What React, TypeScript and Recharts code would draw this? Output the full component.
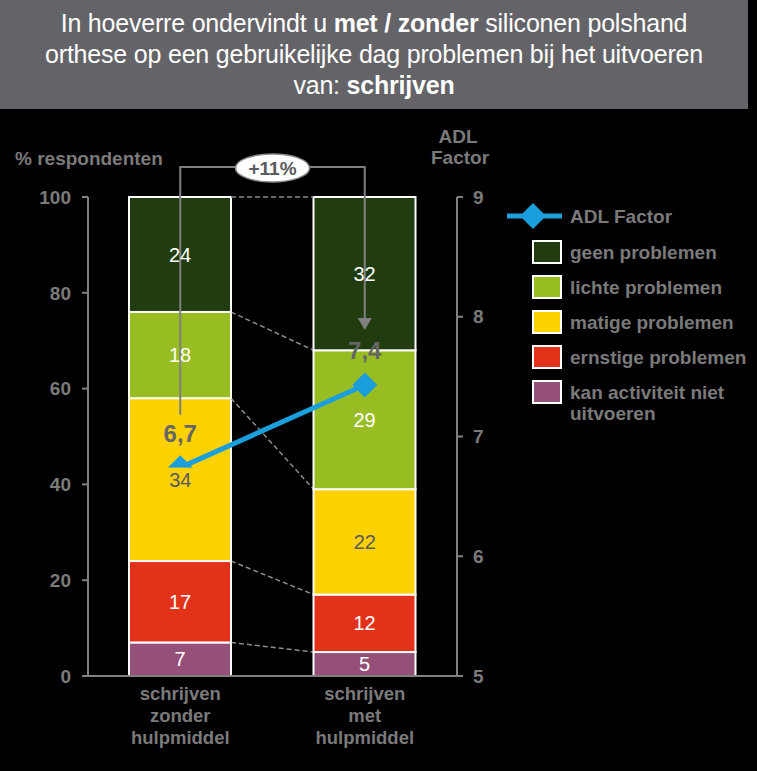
import React from "react";
import { ComposedChart, Bar, Line, Scatter, XAxis, YAxis, LabelList } from "recharts";

// ---------- data ----------
const categories = ["schrijven zonder hulpmiddel", "schrijven met hulpmiddel"];
const categoryLines = [
  ["schrijven", "zonder", "hulpmiddel"],
  ["schrijven", "met", "hulpmiddel"],
];
const kanNietUitvoeren = [7, 5];
const ernstigeProblemen = [17, 12];
const matigeProblemen = [34, 22];
const lichteProblemen = [18, 29];
const geenProblemen = [24, 32];
const adlFactor = [6.74, 7.43];
const adlLabels = ["6,7", "7,4"];
const changeLabel = "+11%";
const leftTicks = [0, 20, 40, 60, 80, 100];
const rightTicks = [5, 6, 7, 8, 9];
const lineName = "ADL Factor";

// ---------- styles ----------
const FONT = "'Liberation Sans', Arial, sans-serif";
const GRAY = "#7a7a7a";
const AXIS = "#808080";
const BLUE = "#1a9fdc";

const series = [
  { key: "kan", name: "kan activiteit niet uitvoeren", values: kanNietUitvoeren, color: "#955079", text: "#ffffff" },
  { key: "ernstig", name: "ernstige problemen", values: ernstigeProblemen, color: "#e2321a", text: "#ffffff" },
  { key: "matig", name: "matige problemen", values: matigeProblemen, color: "#fed100", text: "#5a5a5a" },
  { key: "licht", name: "lichte problemen", values: lichteProblemen, color: "#98bd22", text: "#ffffff" },
  { key: "geen", name: "geen problemen", values: geenProblemen, color: "#213d0f", text: "#ffffff" },
];
const MATIG = series[2];

const data = categories.map((cat, i) => {
  const row: Record<string, any> = { cat, adl: adlFactor[i] };
  series.forEach((s) => (row[s.key] = s.values[i]));
  row.matigMid = kanNietUitvoeren[i] + ernstigeProblemen[i] + matigeProblemen[i] / 2;
  return row;
});

const legendItems = [...series].reverse();

// ---------- custom shapes ----------
const edgeStore: Record<string, { x: number; y: number }> = {};
function makeShape(key: string, color: string) {
  return (props: any) => {
    const { x, y, width, height, index } = props;
    let connector: React.ReactNode = null;
    if (index === 0) {
      edgeStore[key] = { x: x + width, y };
    } else if (edgeStore[key]) {
      const p = edgeStore[key];
      connector = (
        <line x1={p.x} y1={p.y} x2={x} y2={y} stroke="#8c8c8c" strokeWidth={1.5} strokeDasharray="5 3" />
      );
    }
    return (
      <g>
        <rect x={x} y={y} width={width} height={height} fill={color} stroke="#ffffff" strokeWidth={2} />
        {connector}
      </g>
    );
  };
}

const renderMatigLabel = (props: any) => {
  const { cx, cy, payload } = props;
  if (cx == null || cy == null) return <g />;
  return (
    <g>
      <rect x={cx - 18} y={cy - 12} width={36} height={24} fill={MATIG.color} />
      <text x={cx} y={cy + 7} textAnchor="middle" fontSize={20} fill={MATIG.text} fontFamily={FONT}>
        {payload.matig}
      </text>
    </g>
  );
};

const pointStore: { x: number; y: number }[] = [];
const renderDot = (props: any) => {
  const { cx, cy, index } = props;
  pointStore[index] = { x: cx, y: cy };
  const s = 12.5;
  const parts: React.ReactNode[] = [];
  parts.push(
    <polygon key="d" points={`${cx},${cy - s} ${cx + s},${cy} ${cx},${cy + s} ${cx - s},${cy}`} fill={BLUE} />
  );
  parts.push(
    <text key="t" x={cx} y={cy - 26} textAnchor="middle" fontSize={24} fontWeight="bold" fill="#666666" fontFamily={FONT}>
      {adlLabels[index]}
    </text>
  );
  if (index === 1 && pointStore[0]) {
    const p0 = pointStore[0];
    const p1 = { x: cx, y: cy };
    const ppu = (p0.y - p1.y) / (adlFactor[1] - adlFactor[0]);
    const yTop = p1.y - (rightTicks[rightTicks.length - 1] - adlFactor[1]) * ppu - 30;
    const end0 = p0.y - 53;
    const tip1 = p1.y - 55;
    const mid = (p0.x + p1.x) / 2;
    parts.push(
      <g key="b">
        <polyline
          points={`${p0.x},${end0} ${p0.x},${yTop} ${p1.x},${yTop} ${p1.x},${tip1 - 11}`}
          fill="none"
          stroke={AXIS}
          strokeWidth={2}
        />
        <polygon points={`${p1.x - 7},${tip1 - 12} ${p1.x + 7},${tip1 - 12} ${p1.x},${tip1}`} fill={AXIS} />
        <ellipse cx={mid} cy={yTop + 1} rx={37} ry={14} fill="#ffffff" stroke="#8c8c8c" strokeWidth={1.5} />
        <text x={mid} y={yTop + 8} textAnchor="middle" fontSize={19} fontWeight="bold" fill="#5a5a5a" fontFamily={FONT}>
          {changeLabel}
        </text>
      </g>
    );
  }
  return <g key={`dot-${index}`}>{parts}</g>;
};

const CategoryTick = (props: any) => {
  const { x, y, index } = props;
  const lines = categoryLines[index] || [];
  return (
    <g>
      {lines.map((l, i) => (
        <text
          key={i}
          x={x}
          y={y + 16 + i * 22}
          textAnchor="middle"
          fontSize={18.5}
          fontWeight="bold"
          fill={GRAY}
          fontFamily={FONT}
        >
          {l}
        </text>
      ))}
    </g>
  );
};

export default function App() {
  return (
    <div
      style={{
        position: "absolute",
        left: 0,
        top: 0,
        width: 757,
        height: 771,
        background: "#000000",
        fontFamily: FONT,
        overflow: "hidden",
      }}
    >
      <div
        style={{
          position: "absolute",
          left: 0,
          top: 0,
          width: 748,
          height: 109,
          background: "#646468",
          color: "#ffffff",
          fontSize: 25,
          lineHeight: "31px",
          textAlign: "center",
          paddingTop: 8,
          boxSizing: "border-box",
          letterSpacing: -0.2,
        }}
      >
        In hoeverre ondervindt u <b>met / zonder</b> siliconen polshand
        <br />
        orthese op een gebruikelijke dag problemen bij het uitvoeren
        <br />
        van: <b>schrijven</b>
      </div>

      <div style={{ position: "absolute", left: 0, top: 0 }}>
        <ComposedChart
          width={757}
          height={771}
          data={data}
          margin={{ top: 197, right: 240, bottom: 15, left: 28 }}
          style={{ fontFamily: FONT }}
        >
          <XAxis
            dataKey="cat"
            height={80}
            tickLine={false}
            axisLine={{ stroke: AXIS, strokeWidth: 2 }}
            tick={<CategoryTick />}
            interval={0}
          />
          <YAxis
            yAxisId="left"
            width={60}
            domain={[0, 100]}
            ticks={leftTicks}
            interval={0}
            tickSize={6}
            tickMargin={11}
            axisLine={{ stroke: AXIS, strokeWidth: 2 }}
            tickLine={{ stroke: AXIS, strokeWidth: 2 }}
            tick={{ fill: GRAY, fontSize: 19, fontWeight: "bold", fontFamily: FONT }}
          />
          <YAxis
            yAxisId="right"
            orientation="right"
            width={60}
            domain={[5, 9]}
            ticks={rightTicks}
            interval={0}
            tickSize={6}
            tickMargin={10}
            axisLine={{ stroke: AXIS, strokeWidth: 2 }}
            tickLine={{ stroke: AXIS, strokeWidth: 2 }}
            tick={{ fill: GRAY, fontSize: 19, fontWeight: "bold", fontFamily: FONT }}
          />
          {series.map((s) => (
            <Bar
              key={s.key}
              dataKey={s.key}
              name={s.name}
              stackId="a"
              yAxisId="left"
              barSize={102}
              fill={s.color}
              shape={makeShape(s.key, s.color)}
              isAnimationActive={false}
            >
              {s.key !== "matig" && (
                <LabelList dataKey={s.key} position="center" fill={s.text} fontSize={20} fontFamily={FONT} />
              )}
            </Bar>
          ))}
          <Line
            dataKey="adl"
            name={lineName}
            yAxisId="right"
            stroke={BLUE}
            strokeWidth={5}
            dot={renderDot}
            activeDot={false}
            isAnimationActive={false}
          />
          <Scatter
            dataKey="matigMid"
            yAxisId="left"
            shape={renderMatigLabel}
            legendType="none"
            isAnimationActive={false}
          />
        </ComposedChart>
      </div>

      <svg
        width={757}
        height={771}
        style={{ position: "absolute", left: 0, top: 0, pointerEvents: "none" }}
        fontFamily={FONT}
      >
        <text x={15} y={165} fontSize={19} fontWeight="bold" fill={GRAY}>
          % respondenten
        </text>
        <text x={458} y={143} fontSize={19} fontWeight="bold" fill={GRAY} textAnchor="middle">
          ADL
        </text>
        <text x={460} y={164} fontSize={19} fontWeight="bold" fill={GRAY} textAnchor="middle">
          Factor
        </text>

        <line x1={507} y1={216} x2={562} y2={216} stroke={BLUE} strokeWidth={5} />
        <polygon points="533,203 546,216 533,229 520,216" fill={BLUE} />
        <text x={570} y={223} fontSize={19} fontWeight="bold" fill={GRAY}>
          {lineName}
        </text>
        {legendItems.map((s, i) => {
          const cy = 252 + i * 35;
          const words = s.name === "kan activiteit niet uitvoeren" ? ["kan activiteit niet", "uitvoeren"] : [s.name];
          return (
            <g key={s.key}>
              <rect x={533} y={cy - 11} width={28} height={22} fill={s.color} stroke="#ffffff" strokeWidth={2} />
              {words.map((w, j) => (
                <text key={j} x={570} y={cy + 7 + j * 21} fontSize={19} fontWeight="bold" fill={GRAY}>
                  {w}
                </text>
              ))}
            </g>
          );
        })}
      </svg>
    </div>
  );
}
